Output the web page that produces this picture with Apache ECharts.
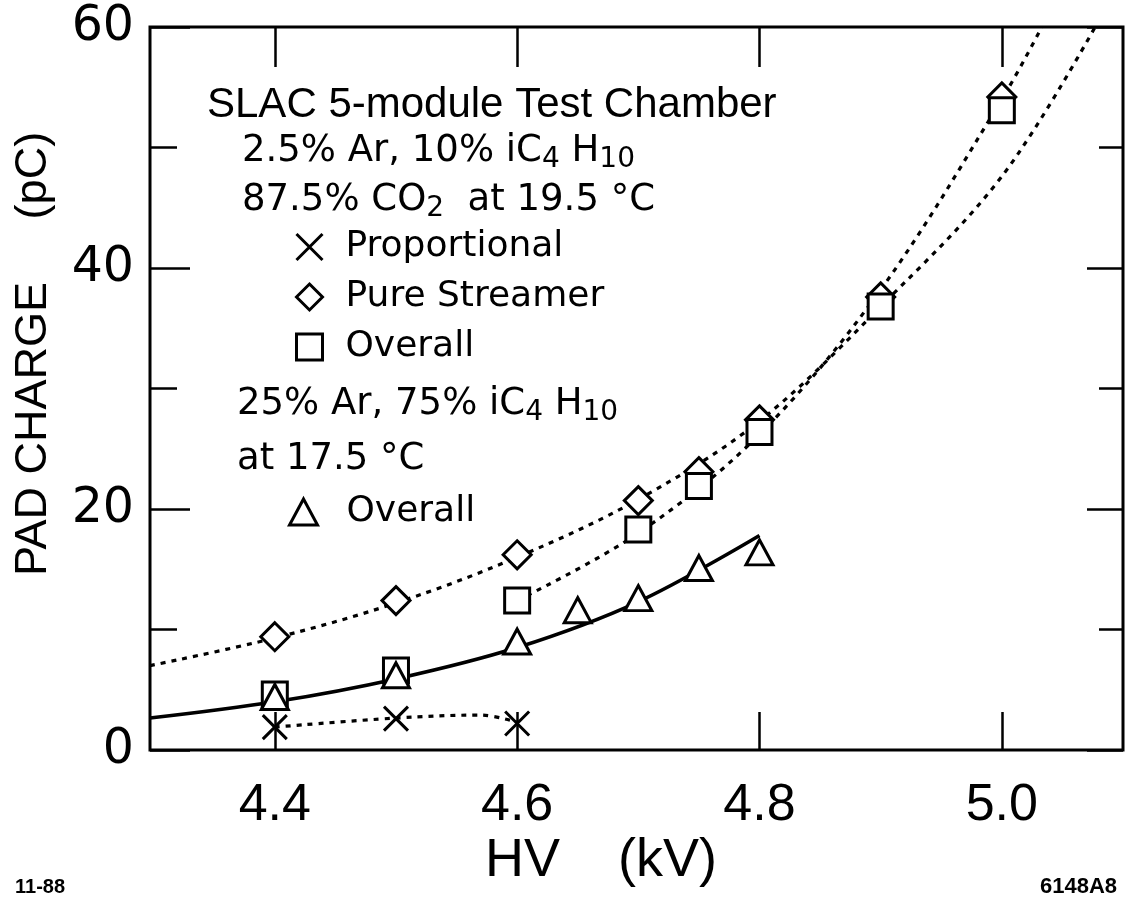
<!DOCTYPE html>
<html>
<head>
<meta charset="utf-8">
<script src="https://cdn.jsdelivr.net/npm/echarts@6/dist/echarts.min.js"></script>
<style>
html,body{margin:0;padding:0;background:#fff;}
#chart{width:1126px;height:915px;}
</style>
</head>
<body>
<div id="chart"></div>
<script>
// ---- data ----
const xTicks = [4.4, 4.6, 4.8, 5.0];

// markers
const propHV = [4.4, 4.5, 4.6];
const propQ = [1.9, 2.6, 2.2];
const streamerHV = [4.4, 4.5, 4.6, 4.7, 4.75, 4.8, 4.9, 5.0];
const streamerQ = [9.4, 12.4, 16.2, 20.7, 23.1, 27.4, 37.6, 54.2];
const overallHV = [4.4, 4.5, 4.6, 4.7, 4.75, 4.8, 4.9, 5.0];
const overallQ = [4.6, 6.6, 12.4, 18.3, 21.9, 26.4, 36.8, 53.1];
const isoHV = [4.4, 4.5, 4.6, 4.65, 4.7, 4.75, 4.8];
const isoQ = [4.4, 6.2, 9.0, 11.6, 12.6, 15.1, 16.4];

// hand-drawn curves
const streamerFitHV = [4.297, 4.4, 4.5, 4.6, 4.7, 4.8, 4.9, 5.0, 5.077];
const streamerFitQ = [7.0, 9.3, 12.2, 16.0, 20.8, 27.3, 36.8, 47.6, 60.0];
const overallFitHV = [4.6, 4.7, 4.8, 4.9, 5.0, 5.033];
const overallFitQ = [12.4, 18.0, 26.2, 38.2, 54.0, 60.0];
const isoFitHV = [4.297, 4.4, 4.5, 4.6, 4.7, 4.8];
const isoFitQ = [2.65, 4.0, 5.9, 8.5, 12.3, 17.8];
const propFitHV = [4.4, 4.5, 4.57, 4.6];
const propFitQ = [1.9, 2.65, 2.9, 2.3];

const legendNames = {
  'Proportional': 'Proportional',
  'Pure Streamer': 'Pure Streamer',
  'Overall CO2': 'Overall',
  'Overall iC4H10': 'Overall'
};

function pairs(xs, ys) { return xs.map((x, i) => [x, ys[i]]); }

const FONT = "'Liberation Sans', Arial, Helvetica, sans-serif";
const WIDE = "'DejaVu Sans', 'Liberation Sans', sans-serif";
const NARROW = "'Liberation Sans Narrow', 'Liberation Sans', Arial, sans-serif";
const XSYM = 'path://M0,0L10,10M10,0L0,10';

const chart = echarts.init(document.getElementById('chart'), null, {renderer: 'canvas'});

const tickStyle = {color: '#000', width: 2.5};
const markerStyle = {color: '#fff', borderColor: '#000', borderWidth: 3, opacity: 1};
const dotted = {color: '#000', width: 3.2, type: [5, 6]};
const richSub = {
  n: {fontFamily: WIDE, fontSize: 37, lineHeight: 44, fill: '#000'},
  s: {fontFamily: WIDE, fontSize: 28, lineHeight: 28, verticalAlign: 'bottom', fill: '#000'}
};

const option = {
  animation: false,
  backgroundColor: '#fff',
  grid: {left: 150, right: 3, top: 27, bottom: 165, show: true, borderColor: '#000', borderWidth: 3, backgroundColor: 'transparent'},
  xAxis: [
    {
      type: 'value', position: 'bottom', min: 4.297, max: 5.1,
      axisLine: {show: false, onZero: false},
      splitLine: {show: false},
      axisTick: {show: true, inside: true, length: 38, lineStyle: tickStyle, customValues: xTicks},
      axisLabel: {show: true, customValues: xTicks, formatter: v => v.toFixed(1), fontFamily: NARROW, fontSize: 52, color: '#000', margin: 30}
    },
    {
      type: 'value', position: 'top', min: 4.297, max: 5.1,
      axisLine: {show: false, onZero: false},
      splitLine: {show: false},
      axisTick: {show: true, inside: true, length: 40, lineStyle: tickStyle, customValues: xTicks},
      axisLabel: {show: false}
    }
  ],
  yAxis: [
    {
      type: 'value', position: 'left', min: 0, max: 60, interval: 20,
      axisLine: {show: false, onZero: false},
      splitLine: {show: false},
      axisTick: {show: true, inside: true, length: 40, lineStyle: tickStyle},
      minorTick: {show: true, splitNumber: 2, length: 27, lineStyle: tickStyle},
      axisLabel: {show: true, fontFamily: "'DejaVu Sans', sans-serif", fontSize: 49, color: '#000', margin: 16}
    },
    {
      type: 'value', position: 'right', min: 0, max: 60, interval: 20,
      axisLine: {show: false, onZero: false},
      splitLine: {show: false},
      axisTick: {show: true, inside: true, length: 36, lineStyle: tickStyle},
      minorTick: {show: true, splitNumber: 2, length: 24, lineStyle: tickStyle},
      axisLabel: {show: false}
    }
  ],
  legend: [
    {
      data: ['Proportional', 'Pure Streamer', 'Overall CO2'],
      orient: 'vertical', left: 290, top: 224,
      itemWidth: 26, itemHeight: 26, itemGap: 14,
      selectedMode: false,
      formatter: n => legendNames[n],
      itemStyle: {borderWidth: 3, borderColor: '#000', opacity: 1},
      textStyle: {fontFamily: WIDE, fontSize: 36, color: '#000', padding: [0, 0, 0, 18]}
    },
    {
      data: ['Overall iC4H10'],
      orient: 'vertical', left: 283, top: 489,
      itemWidth: 28, itemHeight: 26,
      selectedMode: false,
      formatter: n => legendNames[n],
      itemStyle: {borderWidth: 3, borderColor: '#000', opacity: 1},
      textStyle: {fontFamily: WIDE, fontSize: 36, color: '#000', padding: [0, 0, 0, 24]}
    }
  ],
  series: [
    {name: 'streamer fit', type: 'line', data: pairs(streamerFitHV, streamerFitQ), symbol: 'none', smooth: 0.35, lineStyle: dotted, silent: true, z: 2},
    {name: 'overall fit', type: 'line', data: pairs(overallFitHV, overallFitQ), symbol: 'none', smooth: 0.35, lineStyle: dotted, silent: true, z: 2},
    {name: 'iso fit', type: 'line', data: pairs(isoFitHV, isoFitQ), symbol: 'none', smooth: 0.35, lineStyle: {color: '#000', width: 3.6}, silent: true, z: 2},
    {name: 'prop fit', type: 'line', data: pairs(propFitHV, propFitQ), symbol: 'none', smooth: 0.35, lineStyle: dotted, silent: true, z: 2},
    {name: 'Pure Streamer', type: 'scatter', data: pairs(streamerHV, streamerQ), symbol: 'diamond', symbolSize: 28, itemStyle: markerStyle, z: 3},
    {name: 'Overall CO2', type: 'scatter', data: pairs(overallHV, overallQ), symbol: 'rect', symbolSize: 25, itemStyle: markerStyle, z: 4},
    {name: 'Overall iC4H10', type: 'scatter', data: pairs(isoHV, isoQ), symbol: 'triangle', symbolSize: [27, 25], itemStyle: markerStyle, z: 5},
    {name: 'Proportional', type: 'scatter', data: pairs(propHV, propQ), symbol: XSYM, symbolSize: 24, itemStyle: {color: 'rgba(255,255,255,0)', borderColor: '#000', borderWidth: 3, opacity: 1}, z: 6}
  ],
  graphic: [
    {type: 'text', left: 207, top: 84, style: {text: 'SLAC 5-module Test Chamber', font: "42px 'Liberation Sans', Arial, sans-serif", fill: '#000'}},
    {type: 'text', left: 242, top: 133, style: {text: '{n|2.5% Ar, 10% iC}{s|4}{n| H}{s|10}', fill: '#000', rich: richSub}},
    {type: 'text', left: 242, top: 182, style: {text: '{n|87.5% CO}{s|2}{n|  at 19.5 °C}', fill: '#000', rich: richSub}},
    {type: 'text', left: 237, top: 386, style: {text: '{n|25% Ar, 75% iC}{s|4}{n| H}{s|10}', fill: '#000', rich: richSub}},
    {type: 'text', left: 237, top: 441, style: {text: 'at 17.5 °C', font: "37px 'DejaVu Sans', sans-serif", fill: '#000'}},
    {type: 'text', x: 34, y: 354, rotation: Math.PI / 2, style: {text: 'PAD CHARGE     (pC)', font: "45px 'Liberation Sans', Arial, sans-serif", fill: '#000', align: 'center', verticalAlign: 'middle'}},
    {type: 'text', left: 485, top: 834, style: {text: 'HV', font: "54px 'Liberation Sans Narrow', 'Liberation Sans', Arial, sans-serif", fill: '#000'}},
    {type: 'text', left: 618, top: 834, style: {text: '(kV)', font: "54px 'Liberation Sans Narrow', 'Liberation Sans', Arial, sans-serif", fill: '#000'}},
    {type: 'text', left: 15, top: 877, style: {text: '11-88', font: "bold 20px 'Liberation Sans', Arial, sans-serif", fill: '#000'}},
    {type: 'text', left: 1040, top: 876, style: {text: '6148A8', font: "bold 22px 'Liberation Sans Narrow', 'Liberation Sans', Arial, sans-serif", fill: '#000'}}
  ]
};

chart.setOption(option);
</script>
</body>
</html>
